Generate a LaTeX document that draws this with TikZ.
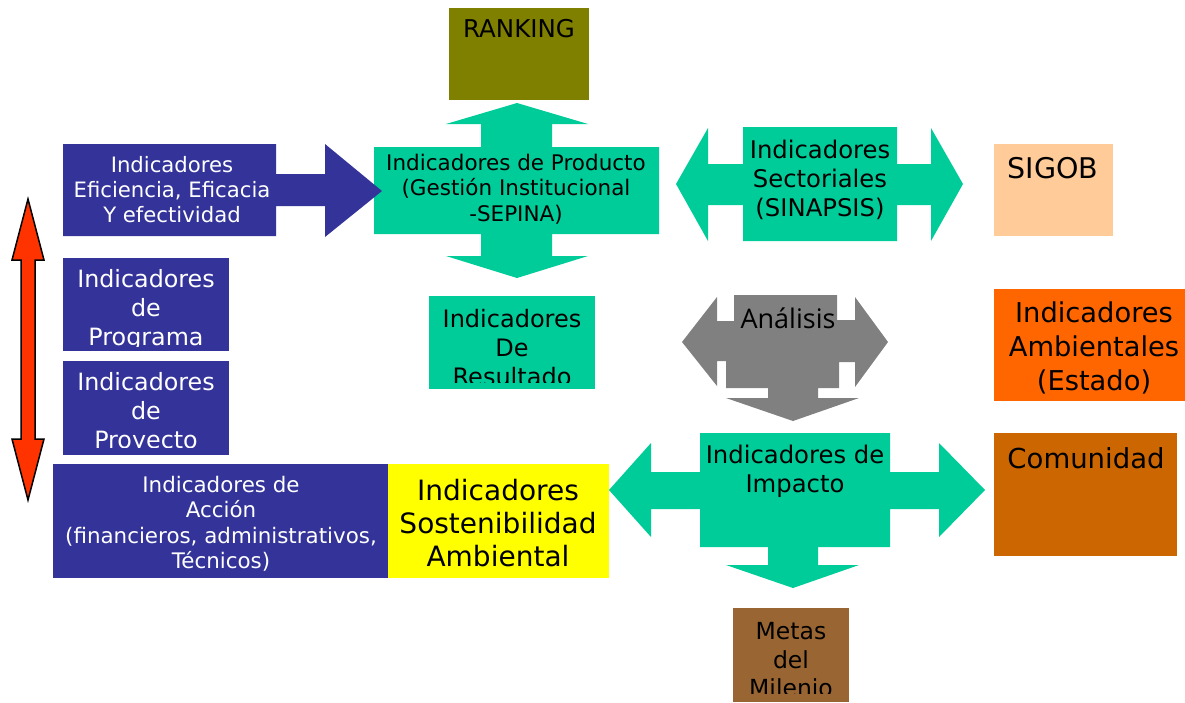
\documentclass[tikz,border=0pt]{standalone}
\usepackage{fontspec}
\setmainfont{DejaVu Sans}
\newfontfamily\anfont{Open Sans}
\definecolor{cgreen}{HTML}{00CC99}
\definecolor{cblue}{HTML}{333399}
\definecolor{colive}{HTML}{808000}
\definecolor{cpeach}{HTML}{FFCC99}
\definecolor{corange}{HTML}{FF6600}
\definecolor{ccomu}{HTML}{CC6600}
\definecolor{cyellow}{HTML}{FFFF00}
\definecolor{cbrown}{HTML}{996633}
\definecolor{cgray}{HTML}{808080}
\definecolor{cred}{HTML}{FF3300}
\begin{document}
\begin{tikzpicture}[x=1pt,y=-1pt,
  lbl/.style={align=center, inner sep=0pt, text=black},
  wlbl/.style={lbl, text=white}]
\useasboundingbox (0,0) rectangle (1185,702);
% boxes
\fill[colive] (449,8) rectangle (589,100);
\fill[cpeach] (994,144) rectangle (1113,236);
\fill[cblue] (63,258) rectangle (229,351);
\fill[cblue] (63,361) rectangle (229,455);
\fill[cblue] (53,464) rectangle (388,578);
\fill[cyellow] (388,464) rectangle (609,578);
\fill[cgreen] (429,296) rectangle (595,389);
\fill[corange] (994,289) rectangle (1185,401);
\fill[ccomu] (994,433) rectangle (1177,556);
\fill[cbrown] (733,608) rectangle (849,702);
% product shape
\fill[cgreen] (374,147) -- (481,147) -- (481,124) -- (446,124) -- (517,103) -- (588,124) -- (552,124) -- (552,147) -- (659,147) -- (659,234) -- (552,234) -- (552,256) -- (588,256) -- (517,278) -- (446,256) -- (481,256) -- (481,234) -- (374,234) -- cycle;
% efficiency arrow
\fill[cblue] (63,144) -- (276,144) -- (276,174) -- (325,174) -- (325,144) -- (382,191) -- (325,237) -- (325,206) -- (276,206) -- (276,236) -- (63,236) -- cycle;
% sectoriales
\fill[cgreen] (743,127) -- (897,127) -- (897,164) -- (931,164) -- (931,128) -- (963,184) -- (931,241) -- (931,205) -- (897,205) -- (897,241) -- (743,241) -- (743,205) -- (708,205) -- (708,241) -- (676,184) -- (708,128) -- (708,164) -- (743,164) -- cycle;
% analisis
\fill[cgray] (734,295) -- (837,295) -- (837,320) -- (855,320) -- (855,297) -- (888,342) -- (855,387) -- (855,362) -- (839,362) -- (839,388) -- (818,388) -- (818,398) -- (859,398) -- (793,421) -- (726,398) -- (768,398) -- (768,388) -- (726,388) -- (726,361) -- (717,361) -- (717,386) -- (682,342) -- (717,297) -- (717,321) -- (734,321) -- cycle;
% impacto
\fill[cgreen] (700,433) -- (890,433) -- (890,472) -- (939,472) -- (939,443) -- (985,490) -- (939,537) -- (939,509) -- (890,509) -- (890,547) -- (818,547) -- (818,565) -- (859,565) -- (793,588) -- (726,565) -- (768,565) -- (768,547) -- (700,547) -- (700,509) -- (651,509) -- (651,537) -- (609,490) -- (651,443) -- (651,472) -- (700,472) -- cycle;
% red double arrow
\filldraw[fill=cred, draw=black, line width=1.5pt, line join=miter] (28,199) -- (44,260) -- (35,260) -- (35,439) -- (44,439) -- (28,500) -- (12,439) -- (21,439) -- (21,260) -- (12,260) -- cycle;
% texts
\node[lbl, font=\fontsize{24.5}{28}\selectfont] (tRank) at (519,29) {RANKING};
\node[lbl, font=\fontsize{21.5}{25.5}\selectfont] (tProd) at (516,189) {Indicadores de Producto\\(Gestión Institucional\\-SEPINA)};
\node[wlbl, font=\fontsize{21.2}{25}\selectfont] (tEff) at (172,190) {Indicadores\\Eficiencia, Eficacia\\Y efectividad};
\node[lbl, font=\fontsize{24.3}{29}\selectfont] (tSect) at (820,179.5) {Indicadores\\Sectoriales\\(SINAPSIS)};
\node[lbl, font=\fontsize{28.5}{33}\selectfont] (tSigob) at (1053,168) {SIGOB};
\begin{scope}
\clip (63,258) rectangle (229,346);
\node[wlbl, font=\fontsize{23.8}{29}\selectfont] (tProg) at (146,310) {Indicadores\\de\\Programa};
\end{scope}
\begin{scope}
\clip (63,361) rectangle (229,447);
\node[wlbl, font=\fontsize{23.8}{29}\selectfont] (tProy) at (146,413) {Indicadores\\de\\Proyecto};
\end{scope}
\begin{scope}
\clip (429,296) rectangle (595,382);
\node[lbl, font=\fontsize{24}{29}\selectfont] (tRes) at (512,348) {Indicadores\\De\\Resultado};
\end{scope}
\node[lbl, font=\anfont\fontsize{27}{31}\selectfont] (tAn) at (788,318) {Análisis};
\node[lbl, font=\fontsize{27.3}{34}\selectfont] (tAmb) at (1094,348) {Indicadores\\Ambientales\\(Estado)};
\node[lbl, font=\fontsize{27.5}{33}\selectfont] (tCom) at (1086,458) {Comunidad};
\node[lbl, font=\fontsize{24.3}{29.5}\selectfont] (tImp) at (795,471.5) {Indicadores de\\Impacto};
\node[wlbl, font=\fontsize{21.4}{25.5}\selectfont] (tAcc) at (221,524) {Indicadores de\\Acción\\(financieros, administrativos,\\Técnicos)};
\node[lbl, font=\fontsize{28}{33}\selectfont] (tSos) at (498,523) {Indicadores\\Sostenibilidad\\Ambiental};
\begin{scope}
\clip (733,608) rectangle (849,693);
\node[lbl, font=\fontsize{23.5}{28.5}\selectfont] (tMet) at (791,660) {Metas\\del\\Milenio};
\end{scope}
\end{tikzpicture}
\end{document}
